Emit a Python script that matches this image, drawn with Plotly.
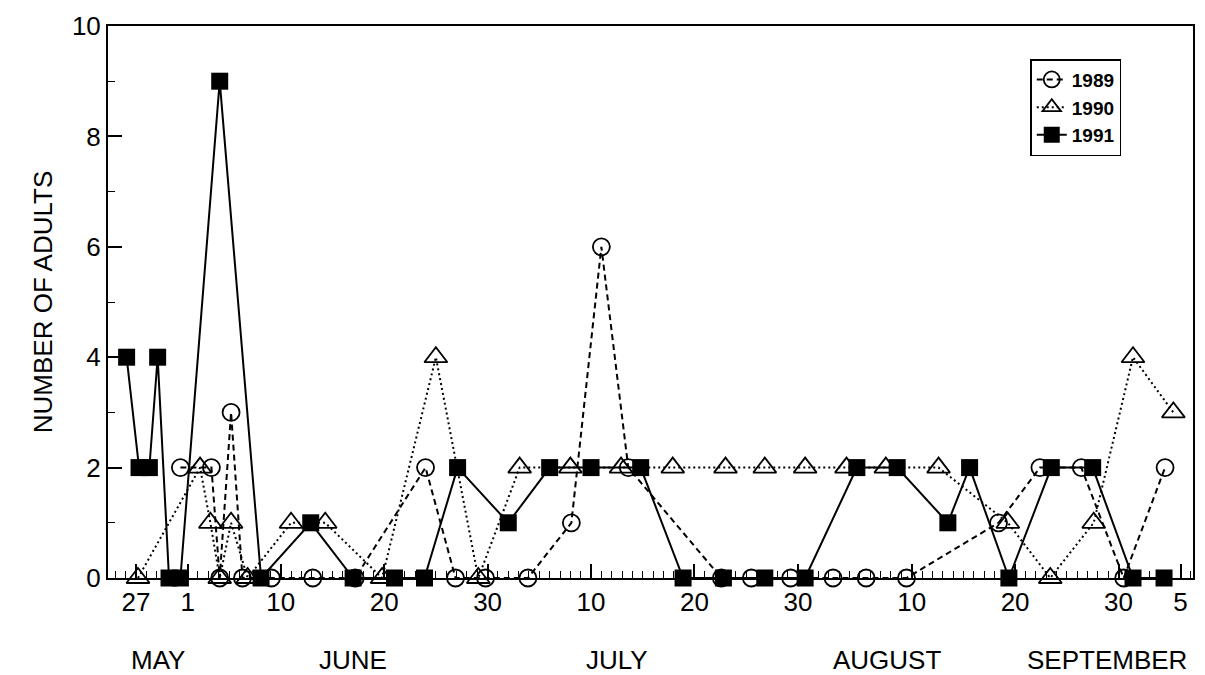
import plotly.graph_objects as go

# x positions are days counted from 27 May (27 May = 0)
tick_days = [0, 5, 14, 24, 34, 44, 54, 64, 75, 85, 95, 101]
tick_labels = ["27", "1", "10", "20", "30", "10", "20", "30", "10", "20", "30", "5"]
month_names = ["MAY", "JUNE", "JULY", "AUGUST", "SEPTEMBER"]
month_days = [2.1, 21.0, 46.5, 72.6, 93.9]

days_1989 = [4.3, 7.3, 8.1, 9.2, 10.3, 13.1, 17.1, 21.2, 28.0, 30.9, 33.8, 37.9,
             42.1, 45.0, 47.6, 56.6, 59.5, 63.3, 67.4, 70.6, 74.5, 83.4, 87.4,
             91.4, 95.5, 99.5]
adults_1989 = [2, 2, 0, 3, 0, 0, 0, 0, 2, 0, 0, 0,
               1, 6, 2, 0, 0, 0, 0, 0, 0, 1, 2,
               2, 0, 2]

days_1990 = [0.2, 6.2, 7.2, 8.1, 9.2, 10.8, 15.0, 18.3, 23.8, 29.0, 33.1, 37.1,
             42.0, 46.9, 51.9, 57.0, 60.8, 64.7, 68.7, 72.5, 77.6, 84.3, 88.4,
             92.6, 96.4, 100.3]
adults_1990 = [0, 2, 1, 0, 1, 0, 1, 1, 0, 4, 0, 2,
               2, 2, 2, 2, 2, 2, 2, 2, 2, 1, 0,
               1, 4, 3]

days_1991 = [-0.9, 0.3, 1.3, 2.1, 3.2, 4.3, 8.1, 12.1, 16.9, 21.0, 25.0, 27.9,
             31.1, 36.0, 40.0, 44.0, 48.8, 52.9, 56.8, 60.8, 64.7, 69.7, 73.6,
             78.5, 80.6, 84.4, 88.5, 92.5, 96.4, 99.4]
adults_1991 = [4, 2, 2, 4, 0, 0, 9, 0, 1, 0, 0, 0,
               2, 1, 2, 2, 2, 0, 0, 0, 0, 2, 2,
               1, 2, 0, 2, 2, 0, 0]

FONT = "Liberation Sans, Arial, Helvetica, sans-serif"

fig = go.Figure()
fig.add_trace(go.Scatter(
    x=days_1989, y=adults_1989, name="1989", mode="lines+markers",
    line=dict(color="black", width=2, dash="6px,4px"),
    marker=dict(symbol="circle-open", size=17, color="black", line=dict(width=1.8)),
    cliponaxis=False))
fig.add_trace(go.Scatter(
    x=days_1990, y=adults_1990, name="1990", mode="lines+markers",
    line=dict(color="black", width=2, dash="2px,3px"),
    marker=dict(symbol="triangle-up-open", size=20, color="black", line=dict(width=1.8)),
    cliponaxis=False))
fig.add_trace(go.Scatter(
    x=days_1991, y=adults_1991, name="1991", mode="lines+markers",
    line=dict(color="black", width=2),
    marker=dict(symbol="square", size=17, color="black", line=dict(width=0)),
    cliponaxis=False))

for name, d in zip(month_names, month_days):
    fig.add_annotation(x=d, xref="x", y=-0.148, yref="paper", text=name,
                       showarrow=False, yanchor="middle",
                       font=dict(family=FONT, size=26, color="black"))

fig.update_layout(
    width=1205, height=675,
    margin=dict(l=100, r=20, t=18, b=105, autoexpand=False),
    paper_bgcolor="white", plot_bgcolor="white",
    font=dict(family=FONT, color="black"),
    showlegend=True,
    legend=dict(x=0.85, y=0.94, xanchor="left", yanchor="top",
                bgcolor="white", bordercolor="black", borderwidth=1.5,
                font=dict(family=FONT, size=19, color="black", weight="bold"),
                tracegroupgap=2),
    xaxis=dict(range=[-2.7, 102.2], tickmode="array", tickvals=tick_days,
               ticktext=tick_labels, ticks="inside", ticklen=14, tickwidth=1.5,
               tickcolor="black", showline=True, linewidth=2, linecolor="black",
               mirror=True, showgrid=False, zeroline=False, automargin=False,
               tickfont=dict(family=FONT, size=26, color="black"),
               minor=dict(ticks="inside", ticklen=7, tickwidth=1.2, dtick=1,
                          tick0=0, tickcolor="black", showgrid=False)),
    yaxis=dict(range=[0, 10], tickmode="linear", tick0=0, dtick=2,
               ticks="inside", ticklen=14, tickwidth=1.5, tickcolor="black",
               showline=True, linewidth=2, linecolor="black", mirror=True,
               showgrid=False, zeroline=False, automargin=False,
               tickfont=dict(family=FONT, size=26, color="black"),
               minor=dict(ticks="inside", ticklen=7, tickwidth=1.2, dtick=1,
                          tick0=0, tickcolor="black", showgrid=False),
               title=dict(text="NUMBER OF ADULTS", standoff=12,
                          font=dict(family=FONT, size=26, color="black"))),
)

fig.write_html("out.html")
